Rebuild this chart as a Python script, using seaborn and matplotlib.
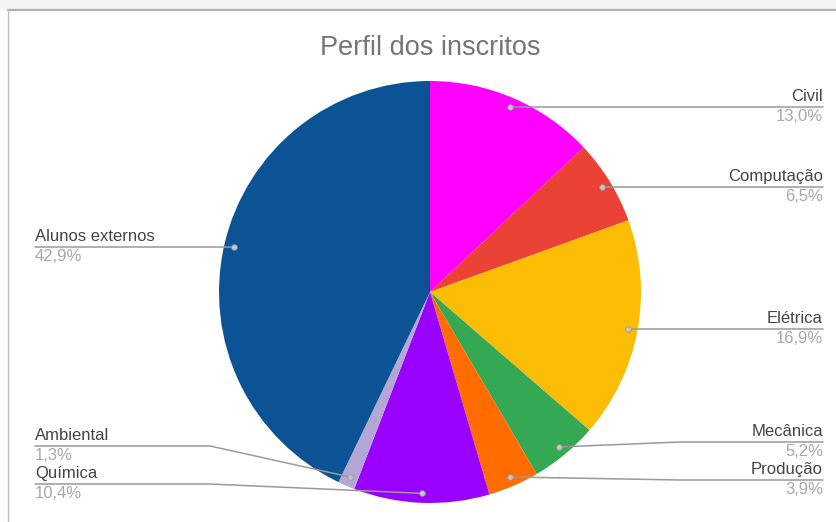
import numpy as np
import matplotlib
matplotlib.use("Agg")
import matplotlib.pyplot as plt
import seaborn as sns

categories = ["Civil", "Computação", "Elétrica", "Mecânica", "Produção",
              "Química", "Ambiental", "Alunos externos"]
values = [13.0, 6.5, 16.9, 5.2, 3.9, 10.4, 1.3, 42.9]
pct_labels = ["13,0%", "6,5%", "16,9%", "5,2%", "3,9%", "10,4%", "1,3%", "42,9%"]
colors = ["#FF00FF", "#EA4335", "#FBBC04", "#34A853", "#FF6D01",
          "#9900FF", "#B4A7D6", "#0B5394"]

# layout (pixel positions of label lines, y measured from top)
label_side = ["R", "R", "R", "R", "R", "L", "L", "L"]
label_line_y = [None, None, None, 442, 480, 484, 446, None]

sns.set_theme(style="white")
plt.rcParams['font.family'] = ['Liberation Sans', 'DejaVu Sans']

W, H = 837, 522
fig = plt.figure(figsize=(W / 100, H / 100), dpi=100)
ax = fig.add_axes([0, 0, 1, 1])

def py(y):
    return H - y

cx, cy, R = 430, py(292), 211
ax.pie(values, colors=colors, startangle=90, counterclock=False,
       center=(cx, cy), radius=R, wedgeprops=dict(linewidth=0))
ax.set_xlim(0, W)
ax.set_ylim(0, H)
ax.set_aspect("equal")
ax.axis("off")

# frame
ax.add_patch(plt.Rectangle((0, py(9)), W, 9, color="#f4f4f4", zorder=0))
ax.plot([8, W], [py(9.5), py(9.5)], color="#b0b0b0", lw=1.6, zorder=5)
ax.plot([8.5, 8.5], [py(9.5), 0], color="#c0c0c0", lw=1.0, zorder=5)

ax.text(430, py(48), "Perfil dos inscritos", ha="center", va="center",
        fontsize=19.5, color="#757575")

total = sum(values)
cum = np.cumsum([0] + values[:-1])
for i, (cat, v) in enumerate(zip(categories, values)):
    mid = 90 - 360 * (cum[i] + v / 2) / total
    th = np.deg2rad(mid)
    dx, dy = cx + 0.955 * R * np.cos(th), cy + 0.955 * R * np.sin(th)
    ly = py(label_line_y[i]) if label_line_y[i] is not None else dy
    if label_side[i] == "R":
        xend, elbow, ha = 823, 680, "right"
    else:
        xend, elbow, ha = 35, 210, "left"
    if abs(ly - dy) < 1:
        xs, ys = [dx, xend], [dy, dy]
    else:
        xs, ys = [dx, elbow, xend], [dy, ly, ly]
    ax.plot(xs, ys, color="#9a9a9a", lw=1.1, zorder=6)
    ax.plot([dx], [dy], marker="o", ms=4, mfc="#c8c8c8", mec="#9a9a9a",
            mew=0.6, zorder=7)
    ax.text(xend, ly + 3, cat, ha=ha, va="bottom", fontsize=12, color="#444444")
    ax.text(xend, ly - 2, pct_labels[i], ha=ha, va="top", fontsize=12,
            color="#a8a8a8")

fig.savefig("out.png", dpi=100)
